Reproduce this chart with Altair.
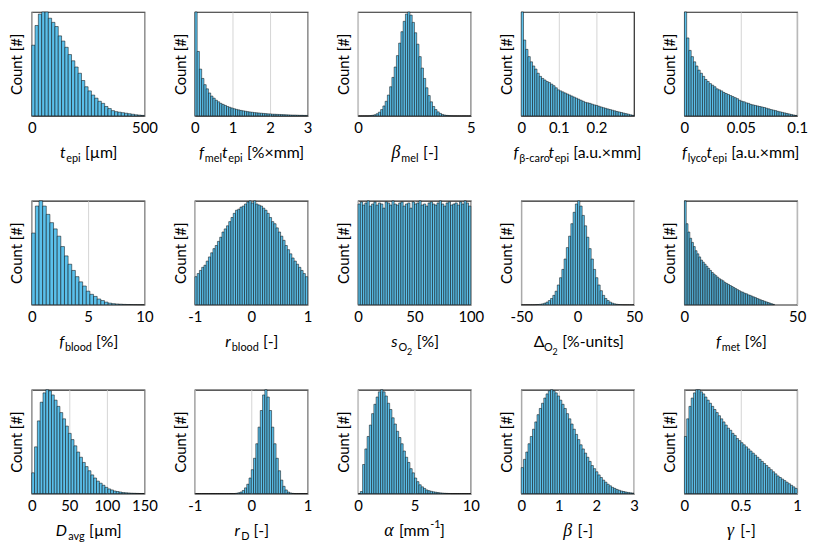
import altair as alt
import numpy as np
import pandas as pd

FILL = "#5BC0EB"
FONT = "Lato"
GREEK_FONT = "Liberation Serif"

# ---------------- data (relative counts, max = 100) ----------------
t_epi_range = [0, 500]
t_epi_counts = [68, 87, 98, 100, 100, 94, 90, 86, 77, 72, 66, 59, 53, 47, 41, 34, 28,
                24, 20, 17, 14, 12, 9, 7, 5, 4, 3.5, 3, 2.5, 2, 1.5, 1, 0.7, 0.4]

fmel_range = [0, 3]
fmel_counts = [100, 62, 45, 36, 30, 26, 22, 19, 17, 15, 13.5, 12, 11, 10, 9, 8.2, 7.5, 6.8,
               6.2, 5.7, 5.2, 4.8, 4.4, 4.0, 3.7, 3.4, 3.1, 2.9, 2.7, 2.5, 2.3, 2.1, 1.9,
               1.8, 1.6, 1.5, 1.4, 1.3, 1.2, 1.1, 1.0, 0.9, 0.8, 0.7, 0.7, 0.6, 0.5, 0.5,
               0.4, 0.4]

bmel_range = [0, 5]
bmel_counts = [0, 0, 0, 0, 0, 0.2, 0.5, 1, 2, 3.5, 6, 9.5, 14, 20, 28, 37, 47, 58, 70, 81,
               91, 98, 100, 97, 90, 80, 69, 57, 46, 36, 27, 19.5, 13.5, 9, 6, 3.8, 2.3, 1.3,
               0.7, 0.4, 0.2, 0.1, 0, 0, 0, 0, 0, 0, 0, 0]

fcaro_range = [0, 0.3]
fcaro_counts = [100, 73, 64, 57, 52, 48, 45, 41, 38, 36, 34.5, 33, 32, 30.5, 29, 27, 25,
                24, 23, 22, 21, 20, 19, 18, 17, 16, 15, 14, 13, 12.5, 12, 11.2, 10.5, 10,
                9.2, 8.5, 7.8, 7.2, 6.6, 6, 5.4, 4.8, 4.2, 3.7, 3.2, 2.6, 2.1, 1.6, 1.0, 0.5]

flyco_range = [0, 0.1]
flyco_counts = [100, 75, 63, 57, 52, 48, 44, 41, 38, 35, 33, 31, 29.5, 28, 26, 25, 24,
                22.5, 21.5, 20.5, 19.5, 18.5, 17.5, 16.5, 15, 14, 13.5, 12.5, 12, 11, 10.5,
                10, 9.5, 9, 8.5, 8, 7.3, 6.7, 6, 5.5, 5, 4.3, 3.8, 3.3, 2.8, 2.3, 1.8, 1.3,
                0.8, 0.4]

fblood_range = [0, 10]
fblood_counts = [69, 95, 100, 95, 87, 79, 73, 66, 56, 47, 39, 33, 27, 22, 18, 13, 10, 8,
                 5.5, 4, 2.5, 1.5, 1, 0.7, 0.5, 0.3, 0.2, 0.15, 0.1, 0.05, 0.05]

rblood_range = [-1, 1]
rblood_counts = [27, 30, 33, 36, 38, 42, 46, 50, 54, 57, 61, 65, 70, 73, 76, 80, 84, 88,
                 91, 92, 94, 95, 97, 99, 100, 98, 100, 97, 96, 95, 93, 91, 88, 84, 80, 78,
                 74, 70, 66, 62, 57, 53, 49, 45, 42, 39, 36, 33, 30, 27]

sO2_range = [0, 100]
sO2_counts = [97, 99, 96, 98, 100, 95, 97, 99, 96, 98, 97, 93, 99, 98, 96, 100, 97, 96,
              98, 99, 95, 97, 98, 93, 99, 97, 98, 100, 96, 97, 95, 98, 99, 97, 96, 98, 100,
              97, 95, 98, 99, 96, 97, 98, 96, 99, 97, 100, 98, 95]

dO2_range = [-50, 50]
dO2_counts = [0, 0, 0, 0, 0, 0, 0.1, 0.2, 0.4, 0.8, 1.5, 2.5, 4, 6, 9, 13, 19, 26, 34, 44,
              55, 66, 78, 89, 97, 100, 95, 86, 76, 65, 54, 44, 34, 26, 19, 13.5, 9, 6, 4,
              2.5, 1.5, 0.8, 0.4, 0.2, 0.1, 0, 0, 0, 0, 0]

fmet_range = [0, 40]
fmet_counts = [100, 78, 70, 64, 60, 56, 52, 49, 46, 43, 41, 39, 37, 35, 33, 31, 29.5, 28,
               26.5, 25, 24, 23, 21.5, 20.5, 19.5, 18.5, 17.5, 16.5, 15.5, 14.5, 13.5, 12.5,
               12, 11, 10.5, 9.5, 9, 8.2, 7.5, 6.8, 6, 5.3, 4.6, 4, 3.3, 2.7, 2.1, 1.5, 0.9,
               0.3]

davg_range = [0, 150]
davg_counts = [20, 45, 70, 88, 97, 100, 99, 95, 90, 84, 78, 72, 65, 58, 52, 46, 40, 35,
               30, 26, 22, 18, 15, 12, 10, 8, 6, 4.5, 3.5, 2.5, 2, 1.5, 1, 0.8, 0.6, 0.4,
               0.3, 0.2, 0.1, 0.1]

rD_range = [-1, 1]
rD_counts = [0] * 18 + [0.3, 0.8, 1.5, 3, 5.5, 9, 15, 23, 34, 48, 64, 80, 95, 100, 93, 80,
                        64, 48, 34, 22, 13, 7, 3.5, 1.5, 0.6, 0.2] + [0] * 6

alpha_range = [0, 10]
alpha_counts = [0, 2, 28, 43, 55, 66, 77, 86, 93, 98, 100, 98, 94, 87, 81, 73, 67, 60, 54,
                48, 41, 35, 30, 24, 20, 15, 11.5, 8.5, 6.5, 5, 3.5, 2.8, 2.2, 1.7, 1.3, 1,
                0.7, 0.5, 0.3, 0.2, 0.1, 0, 0, 0, 0, 0, 0, 0, 0, 0]

beta_range = [0, 3]
beta_counts = [25, 33, 40, 48, 55, 62, 69, 76, 82, 87, 92, 96, 99, 100, 99, 97, 94, 90, 86,
               82, 77, 72, 67, 62, 57, 52, 47, 43, 39, 35, 31, 27, 24, 21, 18, 15.5, 13, 11,
               9, 7.5, 6, 5, 4, 3.2, 2.5, 2, 1.5, 1.1, 0.8, 0.5]

gamma_range = [0, 1]
gamma_counts = [55, 72, 84, 92, 97, 100, 100, 98, 96, 93, 90, 87, 84, 81, 78, 75, 72, 69,
                66, 63, 61, 58, 56, 53, 51, 49, 47, 45, 43, 41, 39, 37, 35, 33, 31, 29, 27,
                25, 23, 21, 19, 17, 15.5, 14, 12.5, 11, 9.5, 8, 6.5, 5]

# axis domains and tick values
domains = [[0, 500], [0, 3], [0, 5], [0, 0.3], [0, 0.1],
           [0, 10], [-1, 1], [0, 100], [-50, 50], [0, 50],
           [0, 150], [-1, 1], [0, 10], [0, 3], [0, 1]]
tick_values = [[0, 500], [0, 1, 2, 3], [0, 5], [0, 0.1, 0.2], [0, 0.05, 0.1],
               [0, 5, 10], [-1, 0, 1], [0, 50, 100], [-50, 0, 50], [0, 50],
               [0, 50, 100, 150], [-1, 0, 1], [0, 5, 10], [0, 1, 2, 3], [0, 0.5, 1]]

GAP = ("", "gap")
titles = [
    [("t", "it"), ("epi", "sub"), GAP, ("[µm]", "rm")],
    [("f", "it"), ("mel", "sub"), ("t", "it"), ("epi", "sub"), GAP, ("[%×mm]", "rm")],
    [("β", "gk"), ("mel", "sub"), GAP, ("[-]", "rm")],
    [("f", "it"), ("β-caro", "sub"), ("t", "it"), ("epi", "sub"), GAP, ("[a.u.×mm]", "rm")],
    [("f", "it"), ("lyco", "sub"), ("t", "it"), ("epi", "sub"), GAP, ("[a.u.×mm]", "rm")],
    [("f", "it"), ("blood", "sub"), GAP, ("[%]", "rm")],
    [("r", "it"), ("blood", "sub"), GAP, ("[-]", "rm")],
    [("s", "it"), ("O", "sub"), ("2", "subsub"), GAP, ("[%]", "rm")],
    [("Δ", "rm"), ("O", "sub"), ("2", "subsub"), GAP, ("[%-units]", "rm")],
    [("f", "it"), ("met", "sub"), GAP, ("[%]", "rm")],
    [("D", "it"), ("avg", "sub"), GAP, ("[µm]", "rm")],
    [("r", "it"), ("D", "sub"), GAP, ("[-]", "rm")],
    [("α", "gk"), GAP, ("[mm", "rm"), ("-1", "sup"), ("]", "rm")],
    [("β", "gk"), GAP, ("[-]", "rm")],
    [("γ", "gk"), GAP, ("[-]", "rm")],
]

series = [
    (t_epi_range, t_epi_counts), (fmel_range, fmel_counts), (bmel_range, bmel_counts),
    (fcaro_range, fcaro_counts), (flyco_range, flyco_counts),
    (fblood_range, fblood_counts), (rblood_range, rblood_counts), (sO2_range, sO2_counts),
    (dO2_range, dO2_counts), (fmet_range, fmet_counts),
    (davg_range, davg_counts), (rD_range, rD_counts), (alpha_range, alpha_counts),
    (beta_range, beta_counts), (gamma_range, gamma_counts),
]

# ---------------- layout helpers ----------------
W, H = 114, 105
EM = {" ": .19, "[": .29, "]": .29, "-": .33, ".": .22, "%": .75, "×": .56, "#": .58,
      "µ": .56, "a": .5, "b": .56, "c": .45, "d": .56, "e": .52, "f": .3, "g": .5,
      "i": .23, "l": .23, "m": .84, "n": .56, "o": .55, "p": .56, "r": .35, "s": .41,
      "t": .33, "u": .56, "v": .5, "y": .49, "k": .5, "C": .66, "D": .73, "O": .78,
      "α": .53, "β": .5, "γ": .44, "Δ": .65}
STYLE = {
    "it": (FONT, "italic", 16, 0),
    "rm": (FONT, "normal", 16, 0),
    "sub": (FONT, "normal", 11, 6),
    "subsub": (FONT, "normal", 9, 10),
    "sup": (FONT, "normal", 11, -6),
    "gk": (GREEK_FONT, "italic", 18, 0),
}


def text_width(s, size):
    return sum(EM.get(ch, 0.58) for ch in s) * size


def title_rows(segs):
    rows, x = [], 0.0
    for txt, kind in segs:
        if kind == "gap":
            x += 4.5
            continue
        font, style, size, dy = STYLE[kind]
        rows.append(dict(t=txt, px=x, py=H + 38 + dy, fs=size, font=font, style=style))
        x += text_width(txt, size) + (1 if kind in ("it", "gk") else 0)
    off = W / 2 - x / 2
    for r in rows:
        r["px"] += off
    return pd.DataFrame(rows)


def panel(i):
    (lo, hi), counts = series[i]
    n = len(counts)
    edges = np.linspace(lo, hi, n + 1)
    df = pd.DataFrame({"x0": edges[:-1], "x1": edges[1:], "c": counts})
    bars = alt.Chart(df).mark_bar(fill=FILL, stroke="black", strokeWidth=0.5).encode(
        x=alt.X("x0:Q",
                scale=alt.Scale(domain=domains[i], nice=False, zero=False),
                axis=alt.Axis(values=tick_values[i], title=None,
                              labelExpr="'' + datum.value", grid=True,
                              gridColor="#D4D4D4", gridWidth=1, ticks=False,
                              domain=False, labelFlush=False, labelOverlap=False,
                              labelFontSize=15, labelFont=FONT, labelColor="black",
                              labelPadding=5)),
        x2="x1",
        y=alt.Y("c:Q", scale=alt.Scale(domain=[0, 100], nice=False),
                axis=alt.Axis(labels=False, ticks=False, grid=False, domain=False,
                              title="Count [#]", titleFontSize=15, titleFont=FONT,
                              titleFontWeight="normal", titlePadding=7,
                              titleColor="black")),
        y2=alt.datum(0),
    )
    tdf = title_rows(titles[i])
    layers = [bars]
    for (font, style), g in tdf.groupby(["font", "style"]):
        layers.append(
            alt.Chart(g.reset_index(drop=True)).mark_text(
                font=font, fontStyle=style, align="left", baseline="middle",
                color="black").encode(
                x=alt.X("px:Q", scale=None, axis=None),
                y=alt.Y("py:Q", scale=None, axis=None),
                size=alt.Size("fs:Q", scale=None, legend=None),
                text="t:N")
        )
    return alt.layer(*layers).resolve_scale(x="independent", y="independent").properties(
        width=W, height=H)


chart = alt.concat(*[panel(i) for i in range(15)], columns=5,
                   spacing={"row": 86, "column": 51}, bounds="flush").properties(
    padding={"left": 1, "top": 0, "right": 2, "bottom": 2}
).configure_view(stroke="#262626", strokeWidth=1.2)

chart.save("out.html", embed_options={"renderer": "svg", "actions": False})
